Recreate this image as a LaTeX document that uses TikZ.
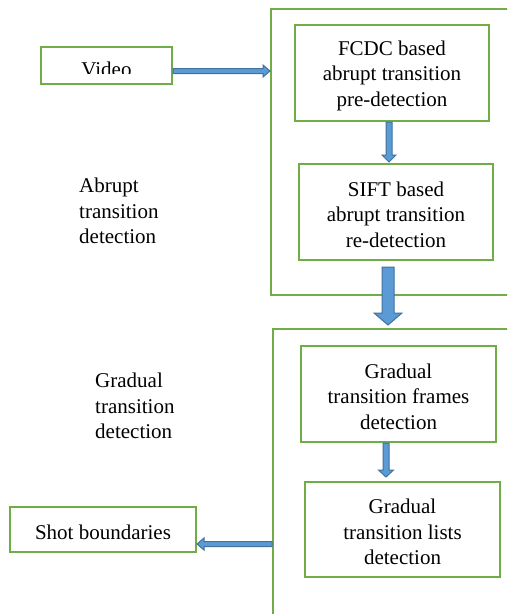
\documentclass[tikz,border=0pt]{standalone}
\usepackage{fontspec}
\setmainfont{Liberation Serif}
\usetikzlibrary{calc}
\definecolor{boxgreen}{RGB}{112,173,71}
\definecolor{arrfill}{RGB}{91,155,213}
\definecolor{arrdraw}{RGB}{65,113,156}
\newcommand{\topstrut}{\rule{0pt}{20pt}}
\tikzset{
  greenbox/.style={draw=boxgreen, line width=2pt, rectangle, inner sep=0pt, align=center, font=\fontsize{21}{25.5}\selectfont},
  container/.style={draw=boxgreen, line width=2pt, rectangle, inner sep=0pt},
  blockarrowstyle/.style={fill=arrfill, draw=arrdraw, line width=1pt, line join=miter},
  sidelabel/.style={anchor=west, align=left, inner sep=0pt, font=\fontsize{21}{25.5}\selectfont}
}
% #1 start, #2 tip, #3 shaft half width, #4 head half width, #5 head length
\newcommand{\blockarr}[5]{%
  \coordinate (bac) at ($(#2)!#5!(#1)$);
  \filldraw[blockarrowstyle] ($(#1)!#3!90:(#2)$) -- ($(bac)!#3!90:(#2)$) -- ($(bac)!#4!90:(#2)$) -- (#2) -- ($(bac)!#4!-90:(#2)$) -- ($(bac)!#3!-90:(#2)$) -- ($(#1)!#3!-90:(#2)$) -- cycle;}
\begin{document}
\begin{tikzpicture}[x=1pt,y=-1pt]
\useasboundingbox (0,0) rectangle (507,614);
\clip (0,0) rectangle (507,614);
\fill[white] (0,0) rectangle (507,614);

% containers
\node[container, minimum width=270pt, minimum height=286pt] (c1) at (406,152) {};
\node[container, minimum width=270pt, minimum height=320pt] (c2) at (408,489) {};

% boxes
\node[container, minimum width=131pt, minimum height=37pt] (video) at (106.5,65) {};
\begin{scope}
  \clip (40,40) rectangle (175,73);
  \node[anchor=base, inner sep=0pt, font=\fontsize{21}{25.5}\selectfont] (videotext) at (106.5,76.5) {Video};
\end{scope}
\node[greenbox, minimum width=194pt, minimum height=96pt] (fcdc) at (392,73) {\topstrut FCDC based\\abrupt transition\\pre-detection};
\node[greenbox, minimum width=194pt, minimum height=96pt] (sift) at (396,212) {\topstrut SIFT based\\abrupt transition\\re-detection};
\node[greenbox, minimum width=195pt, minimum height=96pt] (gtf) at (398.5,394) {\topstrut Gradual\\transition frames\\detection};
\node[greenbox, minimum width=195pt, minimum height=95pt] (gtl) at (402.5,529.5) {\topstrut Gradual\\transition lists\\detection};
\node[greenbox, minimum width=186pt, minimum height=45pt] (shot) at (103,529.5) {\topstrut Shot boundaries};

% side labels
\node[sidelabel] (abl) at (79,211) {Abrupt\\transition\\detection};
\node[sidelabel] (grl) at (95,406) {Gradual\\transition\\detection};

% arrows
\coordinate (va) at ($(video.east)+(0,6)$);
\coordinate (vb) at (va -| c1.west);
\blockarr{va}{vb}{2.5pt}{6pt}{7pt}

\coordinate (fa) at ($(fcdc.south)+(-3,0)$);
\coordinate (fb0) at (fa |- sift.north);
\coordinate (fb) at ($(fb0)+(0,-1)$);
\blockarr{fa}{fb}{3pt}{7pt}{7pt}

\coordinate (ba) at ($(sift.south)+(-8,6)$);
\coordinate (bb0) at (ba |- c2.north);
\coordinate (bb) at ($(bb0)+(0,-3)$);
\blockarr{ba}{bb}{6pt}{14pt}{12pt}

\coordinate (ga) at ($(gtf.south)+(-12.5,0)$);
\coordinate (gb0) at (ga |- gtl.north);
\coordinate (gb) at ($(gb0)+(0,-4)$);
\blockarr{ga}{gb}{3pt}{7.5pt}{7pt}

\coordinate (la0) at (c2.west |- shot.east);
\coordinate (la) at ($(la0)+(0,14.5)$);
\coordinate (lb) at (shot.east |- la);
\blockarr{la}{lb}{2.5pt}{6pt}{7pt}
\end{tikzpicture}
\end{document}
